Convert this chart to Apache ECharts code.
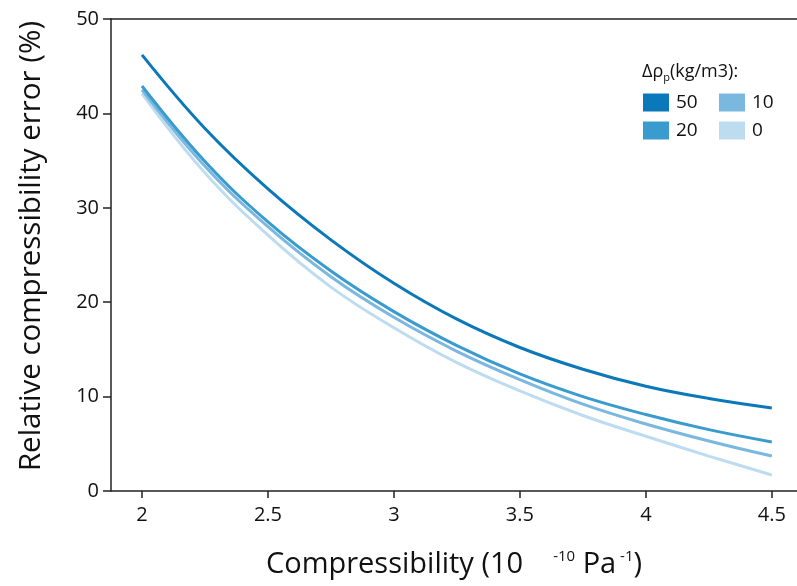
<!DOCTYPE html>
<html lang="en">
<head>
    <meta charset="UTF-8">
    <title>Relative compressibility error</title>
    <script src="https://cdn.jsdelivr.net/npm/echarts@6/dist/echarts.min.js"></script>
    <style>
        html, body {
            margin: 0;
            padding: 0;
            background: #fff;
        }
        #box {
            width: 797px;
            height: 586px;
        }
    </style>
</head>
<body>
<div id="box"></div>
<script>
    // compressibility (10^-10 Pa^-1)
    var compress = [2, 2.25, 2.5, 2.75, 3, 3.25, 3.5, 3.75, 4, 4.25, 4.5];
    // relative error (%) per density difference
    var err50 = [46.2, 38.4, 32.0, 26.6, 22.0, 18.2, 15.2, 12.9, 11.1, 9.8, 8.8];
    var err20 = [42.9, 34.9, 28.5, 23.3, 19.0, 15.4, 12.4, 10.0, 8.1, 6.5, 5.2];
    var err10 = [42.5, 34.4, 28.0, 22.7, 18.4, 14.8, 11.8, 9.2, 7.1, 5.3, 3.7];
    var err0 = [42.1, 33.7, 27.1, 21.6, 17.3, 13.6, 10.6, 8.0, 5.8, 3.7, 1.7];
    var seriesNames = ['50', '20', '10', '0'];
    var xTicks = [2, 2.5, 3, 3.5, 4, 4.5];

    var colors = ['#0b78b9', '#3a9bcf', '#7ab8e0', '#bddcef'];
    var font = 'Open Sans';

    function pairs(ys) {
        return compress.map(function (x, i) { return [x, ys[i]]; });
    }

    var allErr = [err50, err20, err10, err0];
    var series = allErr.map(function (ys, i) {
        return {
            name: seriesNames[i],
            type: 'line',
            smooth: 0.4,
            showSymbol: false,
            z: 10 - i,
            lineStyle: { color: colors[i], width: 3 },
            itemStyle: { color: colors[i] },
            data: pairs(ys)
        };
    });

    var myChart = echarts.init(document.getElementById('box'));
    var option = {
        animation: false,
        backgroundColor: '#fff',
        textStyle: { fontFamily: font },
        title: {
            left: 637,
            top: 55,
            text: '{a|Δρ}{s|p}{a|(kg/m3):}',
            textStyle: {
                fontWeight: 'normal',
                rich: {
                    a: { fontFamily: font, fontSize: 18, fontWeight: 'normal', color: '#111' },
                    s: { fontFamily: font, fontSize: 11, fontWeight: 'normal', color: '#111', padding: [12, 0, 0, 0] }
                }
            }
        },
        legend: [
            {
                left: 638,
                top: 88,
                orient: 'vertical',
                icon: 'rect',
                itemWidth: 26,
                itemHeight: 18,
                itemGap: 9,
                data: ['50', '20'],
                textStyle: { fontFamily: font, fontSize: 19, color: '#111', padding: [0, 0, 0, 2] }
            },
            {
                left: 714,
                top: 88,
                orient: 'vertical',
                icon: 'rect',
                itemWidth: 26,
                itemHeight: 18,
                itemGap: 9,
                data: ['10', '0'],
                textStyle: { fontFamily: font, fontSize: 19, color: '#111', padding: [0, 0, 0, 2] }
            }
        ],
        grid: {
            left: 111,
            right: 0,
            top: 19,
            bottom: 95
        },
        xAxis: [
            {
                type: 'value',
                min: 1.877,
                max: 4.6,
                name: '{a|Compressibility (10}{g|}{sup|-10}{a| Pa}{sup| -1}{a|)}',
                nameLocation: 'middle',
                nameGap: 58,
                nameTextStyle: {
                    rich: {
                        a: { fontFamily: font, fontSize: 29, color: '#111' },
                        g: { width: 30 },
                        sup: { fontFamily: font, fontSize: 15, color: '#111', padding: [0, 0, 16, 0] }
                    }
                },
                axisLine: { show: true, lineStyle: { color: '#222', width: 1.5 } },
                axisTick: { show: true, length: 7, lineStyle: { color: '#222', width: 1.5 }, customValues: xTicks },
                axisLabel: {
                    customValues: xTicks,
                    margin: 14,
                    fontFamily: font,
                    fontSize: 20,
                    color: '#111',
                    formatter: function (v) { return String(v); }
                },
                splitLine: { show: false }
            },
            {
                type: 'value',
                position: 'top',
                min: 1.877,
                max: 4.6,
                axisLine: { show: true, onZero: false, lineStyle: { color: '#222', width: 1.5 } },
                axisTick: { show: false },
                axisLabel: { show: false },
                splitLine: { show: false }
            }
        ],
        yAxis: {
            type: 'value',
            min: 0,
            max: 50,
            interval: 10,
            name: 'Relative compressibility error (%)',
            nameLocation: 'middle',
            nameRotate: 90,
            nameGap: 64,
            nameTextStyle: { fontFamily: font, fontSize: 29.5, color: '#111', padding: [0, 0, 0, 18] },
            axisLine: { show: true, lineStyle: { color: '#222', width: 1.5 } },
            axisTick: { show: true, length: 8, lineStyle: { color: '#222', width: 1.5 } },
            axisLabel: { margin: 12, fontFamily: font, fontSize: 20, color: '#111' },
            splitLine: { show: false }
        },
        series: series
    };

    myChart.setOption(option);
    window.addEventListener('resize', myChart.resize);
</script>
</body>
</html>
